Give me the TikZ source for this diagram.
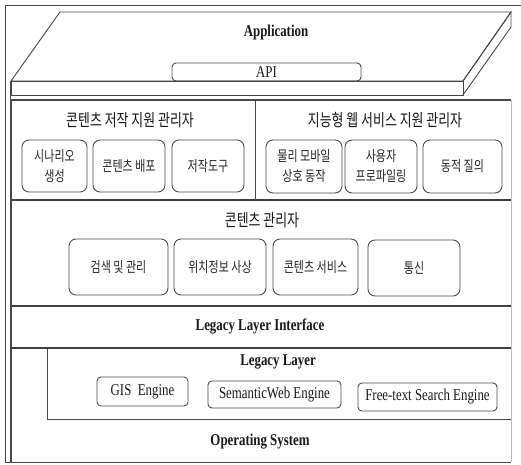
\documentclass[tikz,border=0pt]{standalone}
\usepackage{fontspec}
\setmainfont{Liberation Serif}[FakeStretch=0.78]
\newfontfamily\kr{Noto Sans CJK KR}[FakeStretch=0.76]
\begin{document}
\begin{tikzpicture}[x={(1pt,0)}, y={(0,-1pt)},
  frame/.style={draw=black!72, line width=0.9pt},
  sep/.style={draw=black!75, line width=1.6pt},
  kbox/.style={draw=black!70, line width=0.9pt, rounded corners=7pt, align=center,
    inner sep=0pt, font={\kr\fontsize{14.5}{20}\selectfont}, text=black!85},
  ebox/.style={draw=black!70, line width=0.9pt, rounded corners=4pt, inner sep=0pt,
    font={\fontsize{16.5}{18}\selectfont}, text=black!90},
  ktitle/.style={font={\kr\fontsize{17}{20}\selectfont}, text=black!90, inner sep=0pt},
  etitle/.style={font={\bfseries\fontsize{16.5}{19}\selectfont}, text=black!90, inner sep=0pt}]
\useasboundingbox (0,0) rectangle (521,464);
\fill[white] (0,0) rectangle (521,464);

% outer frame and inner left edge
\draw[frame] (5,462) -- (5,5) -- (521,5);
\draw[frame] (5,462) -- (511,462);
\draw[frame] (10,81) -- (10,462);
\draw[draw=black!25, line width=0.6pt] (511,100) -- (511,462);

% application slab
\draw[frame] (60,12) -- (511,12) -- (463,81) -- (11,81) -- cycle;
\draw[frame] (11,81) rectangle (463,95);
\draw[frame] (463,81) -- (511,12) -- (511,27) -- (463,95);
\node[etitle] (app) at (276,33) {Application};
\node[ebox, minimum width=189pt, minimum height=18pt] (api) at (266.5,72) {API};

% manager rows
\draw[frame, line width=1.2pt] (11,100) -- (511,100);
\draw[frame] (11,100) -- (11,462);
\draw[frame] (255,100) -- (255,200);
\draw[sep] (11,200) -- (511,200);
\draw[sep] (11,306) -- (511,306);
\draw[sep] (11,348) -- (511,348);

% authoring support manager
\node[ktitle] (auth) at (130,120) {콘텐츠 저작 지원 관리자};
\node[kbox, minimum width=65pt, minimum height=52pt] (a1) at (54.5,166) {시나리오\\생성};
\node[kbox, minimum width=72pt, minimum height=52pt] (a2) at (129,166) {콘텐츠 배포};
\node[kbox, minimum width=72pt, minimum height=52pt] (a3) at (208,166) {저작도구};

% intelligent web service support manager
\node[ktitle] (intel) at (385,120) {지능형 웹 서비스 지원 관리자};
\node[kbox, minimum width=76pt, minimum height=53pt] (w1) at (304,166.5) {물리 모바일\\상호 동작};
\node[kbox, minimum width=72pt, minimum height=53pt] (w2) at (381,166.5) {사용자\\프로파일링};
\node[kbox, minimum width=79pt, minimum height=53pt] (w3) at (462.5,166.5) {동적 질의};

% content manager
\node[ktitle] (cm) at (262,220) {콘텐츠 관리자};
\node[kbox, minimum width=99pt, minimum height=56pt] (c1) at (118.5,267) {검색 및 관리};
\node[kbox, minimum width=92pt, minimum height=56pt] (c2) at (220,267) {위치정보 사상};
\node[kbox, minimum width=85pt, minimum height=56pt] (c3) at (315.5,267) {콘텐츠 서비스};
\node[kbox, minimum width=92pt, minimum height=56pt] (c4) at (414,268) {통신};

% legacy layer interface
\node[etitle] (lli) at (260,327) {Legacy Layer Interface};

% legacy layer
\draw[frame] (511,419) -- (47,419) -- (47,348);
\node[etitle] (ll) at (278,362) {Legacy Layer};
\node[ebox, minimum width=91pt, minimum height=29pt] (gis) at (142.5,391.5) {GIS~ Engine};
\node[ebox, minimum width=133pt, minimum height=27pt] (sem) at (274.5,394.5) {SemanticWeb Engine};
\node[ebox, minimum width=139pt, minimum height=28pt] (fts) at (427.5,397) {Free-text Search Engine};

% operating system
\node[etitle] (os) at (260,442) {Operating System};
\end{tikzpicture}
\end{document}
